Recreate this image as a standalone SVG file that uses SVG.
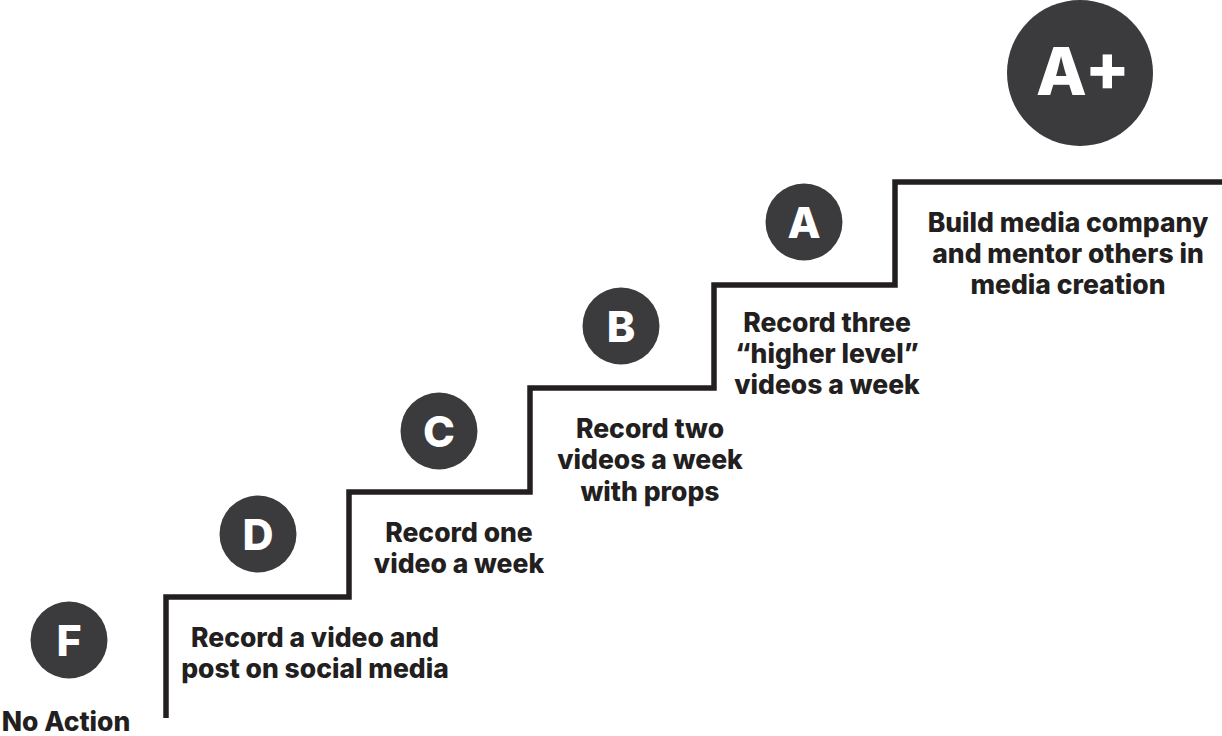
<svg xmlns="http://www.w3.org/2000/svg" width="1222" height="736" viewBox="0 0 1222 736">
  <style>
    .stair { fill: none; stroke: #231f20; stroke-width: 5.5; stroke-linejoin: miter; }
    .badge { fill: #3b3a3c; }
    .grade { fill: #ffffff; font-family: Inter, "Liberation Sans", sans-serif; font-weight: 800; text-anchor: middle; font-size: 43px; }
    .label { fill: #231f20; font-family: Inter, "Liberation Sans", sans-serif; font-weight: 800; font-size: 26.5px; text-anchor: middle; }
  </style>
  <rect width="1222" height="736" fill="#ffffff"/>

  <g id="connectors">
    <path class="stair" d="M166,718 V597 H349 V492 H530 V388 H714 V285 H895 V182 H1222"/>
  </g>

  <g id="grade-f">
    <circle class="badge" cx="69" cy="640" r="38.5"/>
    <text class="grade" x="69" y="655.5">F</text>
    <text class="label" x="66" y="731">No Action</text>
  </g>

  <g id="grade-d">
    <circle class="badge" cx="258" cy="534" r="38.5"/>
    <text class="grade" x="258" y="549.5">D</text>
    <text class="label" x="315" y="647">Record a video and</text>
    <text class="label" x="315" y="678">post on social media</text>
  </g>

  <g id="grade-c">
    <circle class="badge" cx="439" cy="431" r="38.5"/>
    <text class="grade" x="439" y="446.5">C</text>
    <text class="label" x="459" y="542">Record one</text>
    <text class="label" x="459" y="573">video a week</text>
  </g>

  <g id="grade-b">
    <circle class="badge" cx="621" cy="326" r="38.5"/>
    <text class="grade" x="621" y="341.5">B</text>
    <text class="label" x="650" y="438">Record two</text>
    <text class="label" x="650" y="469">videos a week</text>
    <text class="label" x="650" y="501">with props</text>
  </g>

  <g id="grade-a">
    <circle class="badge" cx="804" cy="222" r="38.5"/>
    <text class="grade" x="804" y="237.5">A</text>
    <text class="label" x="827" y="332">Record three</text>
    <text class="label" x="827" y="363">“higher level”</text>
    <text class="label" x="827" y="394">videos a week</text>
  </g>

  <g id="grade-a-plus">
    <circle class="badge" cx="1080" cy="73" r="73"/>
    <text class="grade" x="1083" y="95" style="font-size:66px">A+</text>
    <text class="label" x="1068" y="232">Build media company</text>
    <text class="label" x="1068" y="263">and mentor others in</text>
    <text class="label" x="1068" y="294">media creation</text>
  </g>
</svg>
